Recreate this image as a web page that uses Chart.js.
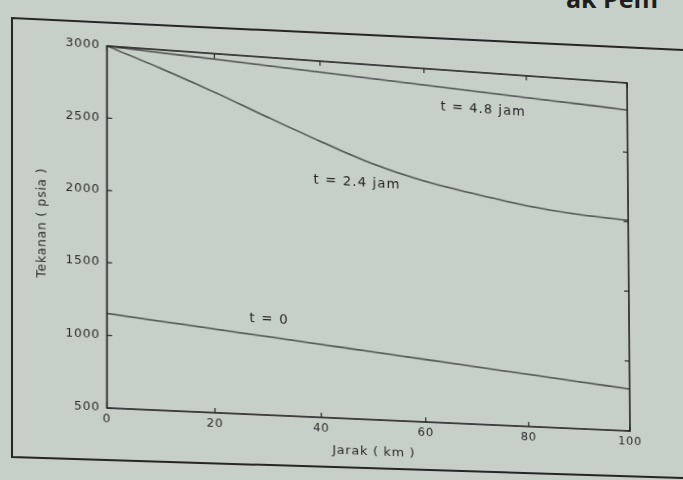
<!DOCTYPE html>
<html>
<head>
<meta charset="utf-8">
<script src="https://cdn.jsdelivr.net/npm/chart.js@4/dist/chart.umd.min.js"></script>
<style>
  html, body { margin: 0; padding: 0; }
  body { width: 683px; height: 480px; overflow: hidden; position: relative; background: rgb(199,208,200); }
  #frame { position: absolute; left: 0; top: 0; }
  #title { position: absolute; left: 566px; top: -19px; font: bold 25px "Open Sans", sans-serif; color: #1e1e1e; white-space: nowrap; }
  #chart { position: absolute; left: 0; top: 0; transform-origin: 0 0; }
</style>
</head>
<body>
<svg id="frame" width="683" height="480">
  <polyline points="683,50 12,18 12,457 683,478" fill="none" stroke="#262626" stroke-width="2"/>
</svg>
<div id="title">ak Pem</div>
<canvas id="chart" width="683" height="480"></canvas>
<script>
// Pressure along the line at three times after start
const distanceKm   = [0, 10, 20, 30, 40, 50, 60, 70, 80, 90, 100];
const pressureT0   = [1150, 1115, 1080, 1045, 1010, 975, 940, 905, 870, 835, 800];
const pressureT24  = [3000, 2870, 2730, 2580, 2435, 2300, 2200, 2130, 2070, 2030, 2010];
const pressureT48  = [3000, 2980, 2961, 2942, 2922, 2903, 2883, 2864, 2844, 2825, 2805];
const seriesNames  = ['t = 0', 't = 2.4 jam', 't = 4.8 jam'];
const xTicks = [0, 20, 40, 60, 80, 100];
const yTicks = [500, 1000, 1500, 2000, 2500, 3000];
const xTitle = 'Jarak ( km )';
const yTitle = 'Tekanan ( psia )';

// where each curve's name is written, in data units
const nameSpots = [
  { x: 30.2, y: 1165 },
  { x: 47,   y: 2160 },
  { x: 71.5, y: 2735 }
];

const ink = '#262626';
const curveInk = '#555b58';

function pts(ys) { return distanceKm.map((x, i) => ({ x, y: ys[i] })); }

// slightly wider text spacing for every label on the canvas
const spacingPlugin = {
  id: 'spacing',
  beforeLayout(chart) { chart.ctx.letterSpacing = '0.8px'; },
  beforeDraw(chart) { chart.ctx.letterSpacing = '0.8px'; }
};

const boxPlugin = {
  id: 'boxAndNames',
  afterDatasetsDraw(chart) {
    const { ctx, chartArea: a, scales } = chart;
    const xs = scales.x, ys = scales.y;
    ctx.save();
    ctx.strokeStyle = ink;
    ctx.lineWidth = 1.7;
    ctx.strokeRect(a.left, a.top, a.right - a.left, a.bottom - a.top);
    ctx.lineWidth = 1.2;
    const len = 5;
    ctx.beginPath();
    xTicks.forEach(v => {
      const px = xs.getPixelForValue(v);
      ctx.moveTo(px, a.bottom); ctx.lineTo(px, a.bottom - len);
      ctx.moveTo(px, a.top); ctx.lineTo(px, a.top + len);
    });
    yTicks.forEach(v => {
      const py = ys.getPixelForValue(v);
      ctx.moveTo(a.left, py); ctx.lineTo(a.left + len, py);
      ctx.moveTo(a.right, py); ctx.lineTo(a.right - len, py);
    });
    ctx.stroke();
    ctx.fillStyle = '#1f1f1f';
    ctx.font = '13.5px "DejaVu Sans"';
    ctx.letterSpacing = '1.2px';
    ctx.textAlign = 'center';
    ctx.textBaseline = 'middle';
    nameSpots.forEach((s, i) => {
      ctx.fillText(seriesNames[i], xs.getPixelForValue(s.x), ys.getPixelForValue(s.y));
    });
    ctx.restore();
  }
};

const chart = new Chart(document.getElementById('chart'), {
  type: 'line',
  data: {
    datasets: [
      { label: seriesNames[0], data: pts(pressureT0) },
      { label: seriesNames[1], data: pts(pressureT24) },
      { label: seriesNames[2], data: pts(pressureT48) }
    ].map(d => Object.assign({ borderColor: curveInk, borderWidth: 1.8, pointRadius: 0, fill: false, tension: 0.35 }, d))
  },
  options: {
    responsive: false,
    animation: false,
    devicePixelRatio: 1,
    layout: { padding: { left: 22, right: 54, top: 46, bottom: 10 } },
    plugins: { legend: { display: false }, tooltip: { enabled: false } },
    scales: {
      x: {
        type: 'linear', min: 0, max: 100,
        afterBuildTicks: s => { s.ticks = xTicks.map(v => ({ value: v })); },
        grid: { display: false, drawTicks: false },
        border: { display: false },
        ticks: { color: '#2a2a2a', padding: 5, font: { family: 'DejaVu Sans', size: 12 }, maxRotation: 0, callback: v => String(v) },
        title: { display: true, text: xTitle, color: '#2a2a2a', padding: { top: 2, bottom: 0 }, font: { family: 'DejaVu Sans', size: 13 } }
      },
      y: {
        type: 'linear', min: 500, max: 3000,
        afterBuildTicks: s => { s.ticks = yTicks.map(v => ({ value: v })); },
        grid: { display: false, drawTicks: false },
        border: { display: false },
        ticks: { color: '#2a2a2a', padding: 7, font: { family: 'DejaVu Sans', size: 12 }, callback: v => String(v) },
        title: { display: true, text: yTitle, color: '#2a2a2a', padding: { top: 0, bottom: 8 }, font: { family: 'DejaVu Sans', size: 13 } }
      }
    }
  },
  plugins: [spacingPlugin, boxPlugin]
});

// Slanted view of the sheet: map the plot box onto a tilted quadrilateral
function solve(A, b) {
  const n = b.length;
  for (let i = 0; i < n; i++) {
    let p = i;
    for (let r = i + 1; r < n; r++) if (Math.abs(A[r][i]) > Math.abs(A[p][i])) p = r;
    [A[i], A[p]] = [A[p], A[i]]; [b[i], b[p]] = [b[p], b[i]];
    for (let r = i + 1; r < n; r++) {
      const f = A[r][i] / A[i][i];
      for (let c = i; c < n; c++) A[r][c] -= f * A[i][c];
      b[r] -= f * b[i];
    }
  }
  const x = new Array(n).fill(0);
  for (let i = n - 1; i >= 0; i--) {
    let s = b[i];
    for (let c = i + 1; c < n; c++) s -= A[i][c] * x[c];
    x[i] = s / A[i][i];
  }
  return x;
}
function homography(src, dst) {
  const A = [], b = [];
  for (let i = 0; i < 4; i++) {
    const [x, y] = src[i], [u, v] = dst[i];
    A.push([x, y, 1, 0, 0, 0, -u * x, -u * y]); b.push(u);
    A.push([0, 0, 0, x, y, 1, -v * x, -v * y]); b.push(v);
  }
  return solve(A, b);
}
const a = chart.chartArea;
const tilt = [[107, 46], [627, 83], [630, 431], [107, 408]];
const h = homography([[a.left, a.top], [a.right, a.top], [a.right, a.bottom], [a.left, a.bottom]], tilt);
document.getElementById('chart').style.transform =
  `matrix3d(${h[0]},${h[3]},0,${h[6]},${h[1]},${h[4]},0,${h[7]},0,0,1,0,${h[2]},${h[5]},0,1)`;
</script>
</body>
</html>
